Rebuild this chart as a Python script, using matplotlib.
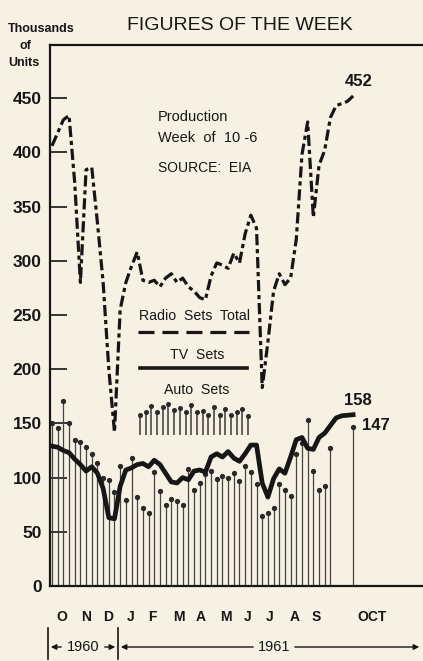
import numpy as np
import matplotlib.pyplot as plt

# weekly production, thousands of units (Oct 1960 - week of Oct 6 1961)
weeks = np.arange(54)
radio_total = [406, 418, 430, 434, 372, 280, 384, 386, 335, 280,
               200, 142, 255, 280, 295, 308, 282, 280, 282, 276,
               284, 288, 280, 284, 276, 272, 266, 264, 286, 298,
               296, 293, 307, 298, 325, 342, 330, 183, 225, 272,
               288, 278, 284, 320, 398, 428, 340, 388, 402, 432,
               443, 445, 447, 452]
tv_sets = [129, 128, 125, 123, 117, 112, 106, 110, 104, 90,
           63, 62, 92, 107, 109, 112, 113, 110, 116, 112,
           104, 96, 95, 100, 98, 106, 107, 105, 119, 122,
           119, 124, 118, 115, 122, 130, 130, 95, 82, 99,
           108, 104, 119, 135, 137, 127, 126, 137, 141, 148,
           155, 157, 157.5, 158]
auto_sets = [150, 146, 171, 150, 135, 133, 128, 122, 113, 100,
             98, 87, 111, 79, 118, 82, 72, 67, 105, 88,
             75, 80, 78, 75, 108, 89, 95, 103, 106, 99,
             101, 100, 104, 97, 111, 105, 94, 65, 67, 72,
             94, 89, 83, 122, 132, 153, 106, 89, 92, 127,
             np.nan, np.nan, np.nan, 147]

month_labels = ["O", "N", "D", "J", "F", "M", "A", "M", "J", "J", "A", "S", "OCT"]
month_pos = [1.7, 6.0, 9.8, 13.8, 17.7, 22.3, 26.2, 30.6, 34.5, 38.3, 42.7, 46.5, 56.3]
y_ticks = [0, 50, 100, 150, 200, 250, 300, 350, 400, 450]

# little key stems under "Auto Sets"
key_stem_pos = np.arange(15.5, 35.5, 1.0)
key_stem_tops = [157.6, 160.6, 165.9, 160.6, 165.3, 168.3, 162.2, 164.6, 160.6, 166.8,
                 160.6, 161.6, 157.6, 165.3, 157.6, 163.7, 157.6, 160.6, 163.7, 156.7]

bg = '#f6f1e3'
ink = '#161616'
plt.rcParams['font.family'] = ['Liberation Sans', 'DejaVu Sans']

fig = plt.figure(figsize=(4.23, 6.61), dpi=100, facecolor=bg)
ax = fig.add_axes([50 / 423, 75 / 661, 373 / 423, 541 / 661])
ax.set_facecolor(bg)

auto = np.array(auto_sets, dtype=float)
ok = ~np.isnan(auto)
ax.vlines(weeks[ok], 0, auto[ok], color='#444444', lw=0.9, zorder=2)
ax.plot(weeks[ok], auto[ok], 'o', ms=2.8, color='#2a2a2a', zorder=2)

ax.plot(weeks, tv_sets, color=ink, lw=3.4, solid_joinstyle='round', zorder=3)
ax.plot(weeks, radio_total, color=ink, lw=2.3, linestyle=(0, (3.5, 1.2, 1.3, 1.2)),
        zorder=3)

# key
ax.text(18.7, 433, "Production", fontsize=10.5, ha='left', va='center', color=ink)
ax.text(18.7, 413, "Week  of  10 -6", fontsize=10.5, ha='left', va='center', color=ink)
ax.text(18.7, 386, "SOURCE:  EIA", fontsize=10, ha='left', va='center', color=ink)
ax.text(25, 249, "Radio  Sets  Total", fontsize=10.2, ha='center', va='center', color=ink)
ax.plot([15.1, 34.7], [234, 234], color=ink, lw=2.3, linestyle=(0, (5, 2.5)))
ax.text(25.5, 213, "TV  Sets", fontsize=10.2, ha='center', va='center', color=ink)
ax.plot([15.5, 34.3], [201, 201], color=ink, lw=2.6)
ax.text(25.5, 181, "Auto  Sets", fontsize=10.2, ha='center', va='center', color=ink)
ax.vlines(key_stem_pos, 139, key_stem_tops, color='#3a3a3a', lw=1.1)
ax.plot(key_stem_pos, key_stem_tops, 'o', ms=2.6, color='#2a2a2a')

ax.text(54, 465, "452", fontsize=12, fontweight='bold', ha='center', va='center', color=ink)
ax.text(53.8, 171.5, "158", fontsize=12, fontweight='bold', ha='center', va='center', color=ink)
ax.text(54.6, 148, "147", fontsize=12, fontweight='bold', ha='left', va='center', color=ink)

ax.set_xlim(-0.35, 65.3)
ax.set_ylim(0, 499)
ax.set_yticks(y_ticks)
ax.set_yticklabels([str(v) for v in y_ticks], fontweight='bold', fontsize=12.5, color=ink)
ax.set_xticks(month_pos)
ax.set_xticklabels(month_labels, fontweight='bold', fontsize=10, color=ink)
ax.tick_params(axis='y', direction='in', length=12, width=1.2, pad=6, colors=ink)
ax.tick_params(axis='x', length=0, pad=17)
for s in ['left', 'top', 'bottom']:
    ax.spines[s].set_linewidth(1.6)
    ax.spines[s].set_color(ink)
ax.spines['right'].set_visible(False)

# headings
fig.text(0.567, 0.962, "FIGURES OF THE WEEK", fontsize=14, ha='center', va='center', color=ink)
fig.text(41.5 / 423, 1 - 29 / 661, "Thousands", fontsize=9, fontweight='bold', ha='center', va='center', color=ink)
fig.text(25 / 423, 1 - 46 / 661, "of", fontsize=9, fontweight='bold', ha='center', va='center', color=ink)
fig.text(24 / 423, 1 - 63 / 661, "Units", fontsize=9, fontweight='bold', ha='center', va='center', color=ink)

# year brackets
yy = 1 - 647 / 661
for px in [48, 118]:
    fig.add_artist(plt.Line2D([px / 423, px / 423], [1 - 628 / 661, 0.003],
                              color=ink, lw=1.2))
arrow = dict(arrowstyle='-|>', color=ink, lw=1.0, mutation_scale=8)
fig.text(83 / 423, yy, "1960", fontsize=10.5, ha='center', va='center', color=ink)
fig.text(274 / 423, yy, "1961", fontsize=10.5, ha='center', va='center', color=ink)
fig.add_artist(plt.matplotlib.patches.FancyArrowPatch((64 / 423, yy), (48 / 423, yy),
               transform=fig.transFigure, **arrow))
fig.add_artist(plt.matplotlib.patches.FancyArrowPatch((102 / 423, yy), (118 / 423, yy),
               transform=fig.transFigure, **arrow))
fig.add_artist(plt.matplotlib.patches.FancyArrowPatch((256 / 423, yy), (118 / 423, yy),
               transform=fig.transFigure, **arrow))
fig.add_artist(plt.matplotlib.patches.FancyArrowPatch((292 / 423, yy), (422 / 423, yy),
               transform=fig.transFigure, **arrow))

fig.savefig('out.png', dpi=100, facecolor=bg)
